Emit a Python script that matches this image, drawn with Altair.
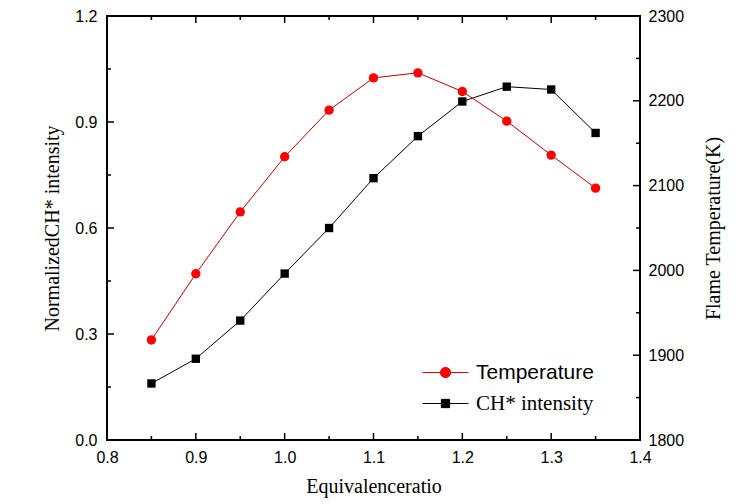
import altair as alt
import pandas as pd

# ---- data ----
phi = [0.85, 0.90, 0.95, 1.00, 1.05, 1.10, 1.15, 1.20, 1.25, 1.30, 1.35]
ch_intensity = [0.160, 0.230, 0.338, 0.471, 0.600, 0.741, 0.860, 0.958, 1.000, 0.992, 0.869]
flame_temp = [1918, 1996, 2069, 2134, 2189, 2227, 2233, 2211, 2176, 2136, 2097]

x_labels = [0.8, 0.9, 1.0, 1.1, 1.2, 1.3, 1.4]
x_major = [0.9, 1.0, 1.1, 1.2, 1.3]
x_minor = [0.85, 0.95, 1.05, 1.15, 1.25, 1.35]
yl_labels = [0.0, 0.3, 0.6, 0.9, 1.2]
yl_major = [0.3, 0.6, 0.9]
yl_minor = [0.15, 0.45, 0.75, 1.05]
yr_labels = [1800, 1900, 2000, 2100, 2200, 2300]
yr_major = [1900, 2000, 2100, 2200]
yr_minor = [1850, 1950, 2050, 2150, 2250]

series_names = ["Temperature", "CH* intensity"]

W, H = 533, 424
MAJ, MIN = 7, 4
TICK_W = 1.5

SANS = "Liberation Sans"
SERIF = "Liberation Serif"

ch_df = pd.DataFrame({"phi": phi, "v": ch_intensity, "series": series_names[1]})
t_df = pd.DataFrame({"phi": phi, "v": flame_temp, "series": series_names[0]})

xs = alt.Scale(domain=[0.8, 1.4], nice=False, zero=False)
yls = alt.Scale(domain=[0, 1.2], nice=False, zero=False)
yrs = alt.Scale(domain=[1800, 2300], nice=False, zero=False)

x_axis = alt.Axis(values=x_labels, format=".1f", ticks=False, tickSize=0, domain=False, grid=False,
                  labelFont=SANS, labelFontSize=16, labelPadding=9, labelFlush=False, labelColor="black",
                  title="Equivalenceratio", titleFont=SERIF, titleFontSize=20, titleFontWeight="normal",
                  titlePadding=11, titleColor="black")
yl_axis = alt.Axis(values=yl_labels, format=".1f", ticks=False, tickSize=0, domain=False, grid=False,
                   labelFont=SANS, labelFontSize=16, labelPadding=10, labelFlush=False, labelColor="black",
                   title="NormalizedCH* intensity", titleFont=SERIF, titleFontSize=20,
                   titleFontWeight="normal", titlePadding=12, titleColor="black")
yr_axis = alt.Axis(orient="right", values=yr_labels, format="d", ticks=False, tickSize=0, domain=False,
                   grid=False, labelFont=SANS, labelFontSize=16, labelPadding=8, labelFlush=False,
                   labelColor="black", title="Flame Temperature(K)", titleFont=SERIF, titleFontSize=20,
                   titleFontWeight="normal", titlePadding=40, titleAngle=270, titleColor="black")

X = lambda f: alt.X(f, scale=xs, axis=x_axis)
YL = lambda f: alt.Y(f, scale=yls, axis=yl_axis)
YR = lambda f: alt.Y(f, scale=yrs, axis=yr_axis)

circle_path = ("M -0.22 0 A 0.22 0.22 0 1 0 0.22 0 A 0.22 0.22 0 1 0 -0.22 0 Z "
               "M -1 0 L -0.22 0 M 0.22 0 L 1 0")
square_path = "M -0.18 -0.18 L 0.18 -0.18 L 0.18 0.18 L -0.18 0.18 Z M -1 0 L -0.18 0 M 0.18 0 L 1 0"

# ---- left (CH*) group ----
ch_line = alt.Chart(ch_df).mark_line(color="black", strokeWidth=1).encode(
    x=X("phi:Q"), y=YL("v:Q"))
ch_pts = alt.Chart(ch_df).mark_square(size=70, opacity=1).encode(
    x=X("phi:Q"), y=YL("v:Q"),
    color=alt.Color("series:N", scale=alt.Scale(domain=[series_names[1]], range=["black"]),
                    legend=alt.Legend(title=None, orient="none", legendX=315, legendY=364, padding=0,
                                      symbolType=square_path, symbolSize=2116, symbolStrokeColor="black",
                                      symbolFillColor="black", symbolStrokeWidth=1, labelFont=SERIF,
                                      labelFontSize=21, labelOffset=7, labelColor="black")))


def xrules(vals, y0, y1):
    return alt.Chart(pd.DataFrame({"t": vals})).mark_rule(color="black", strokeWidth=TICK_W).encode(
        x=X("t:Q"), y=alt.value(y0), y2=alt.value(y1))


def ylrules(vals, ln):
    return alt.Chart(pd.DataFrame({"t": vals})).mark_rule(color="black", strokeWidth=TICK_W).encode(
        y=YL("t:Q"), x=alt.value(0), x2=alt.value(ln))


def yrrules(vals, ln):
    return alt.Chart(pd.DataFrame({"t": vals})).mark_rule(color="black", strokeWidth=TICK_W).encode(
        y=YR("t:Q"), x=alt.value(W), x2=alt.value(W - ln))


left = alt.layer(
    ch_line, ch_pts,
    ylrules(yl_major, MAJ), ylrules(yl_minor, MIN),
    xrules(x_major, H, H - MAJ), xrules(x_minor, H, H - MIN),
    xrules(x_major, 0, MAJ), xrules(x_minor, 0, MIN),
)

# ---- right (Temperature) group ----
t_line = alt.Chart(t_df).mark_line(color="#c00000", strokeWidth=1).encode(
    x=X("phi:Q"), y=YR("v:Q"))
t_pts = alt.Chart(t_df).mark_circle(size=88, opacity=1).encode(
    x=X("phi:Q"), y=YR("v:Q"),
    color=alt.Color("series:N", scale=alt.Scale(domain=[series_names[0]], range=["#ff0000"]),
                    legend=alt.Legend(title=None, orient="none", legendX=315, legendY=333, padding=0,
                                      symbolType=circle_path, symbolSize=2116, symbolStrokeColor="#e00000",
                                      symbolFillColor="#ff0000", symbolStrokeWidth=1, labelFont=SANS,
                                      labelFontSize=21, labelOffset=7, labelColor="black")))

right = alt.layer(t_line, t_pts, yrrules(yr_major, MAJ), yrrules(yr_minor, MIN))

chart = alt.layer(left, right).resolve_scale(y="independent", color="independent").properties(
    width=W, height=H,
    padding={"left": 99, "top": 8, "right": 100, "bottom": 62},
    autosize=alt.AutoSizeParams(type="none"),
).configure_view(stroke="black", strokeWidth=2)

chart.save("out.html", embed_options={"renderer": "svg", "actions": False})
